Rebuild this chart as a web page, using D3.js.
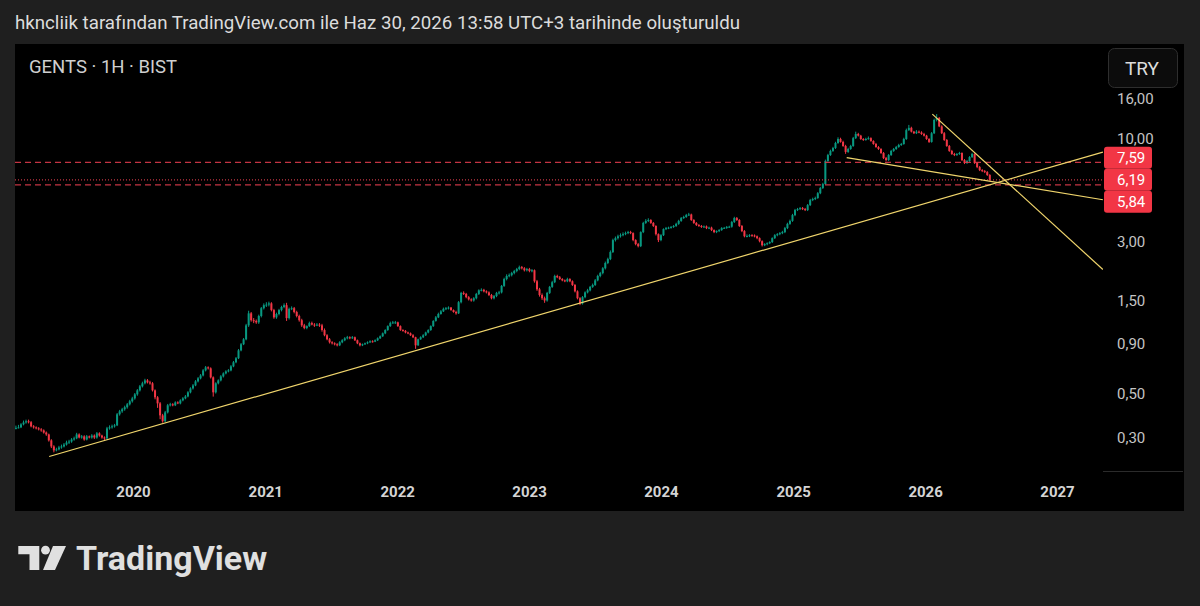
<!DOCTYPE html>
<html>
<head>
<meta charset="utf-8">
<script src="https://cdn.jsdelivr.net/npm/d3@7"></script>
<style>
  html, body { margin: 0; background: #1f1f1f; }
  svg { display: block; font-family: Roboto, "Noto Sans", sans-serif; }
</style>
</head>
<body>
<svg id="chart" width="1200" height="606"></svg>
<script>
// GENTS weekly bars (first bar week of 2019-02-11)
const firstWeek = "2019-02-11";
const firstOpen = 0.334;
const closes = [0.336,
  0.338,0.350,0.358,0.363,0.359,0.342,0.338,0.334,0.330,0.326,
  0.318,0.311,0.290,0.270,0.258,0.261,0.267,0.270,0.276,0.283,
  0.286,0.293,0.297,0.311,0.300,0.304,0.293,0.304,0.300,0.307,
  0.300,0.315,0.307,0.300,0.297,0.334,0.338,0.342,0.346,0.394,
  0.408,0.418,0.428,0.443,0.459,0.475,0.498,0.522,0.547,0.567,
  0.587,0.573,0.567,0.522,0.481,0.448,0.389,0.363,0.403,0.438,
  0.443,0.438,0.453,0.448,0.464,0.475,0.486,0.510,0.534,0.553,
  0.580,0.601,0.622,0.660,0.684,0.676,0.608,0.510,0.567,0.587,
  0.615,0.637,0.652,0.660,0.692,0.726,0.761,0.835,0.897,0.951,
  1.12,1.29,1.19,1.18,1.16,1.25,1.37,1.42,1.43,1.45,
  1.34,1.23,1.28,1.34,1.39,1.42,1.22,1.36,1.37,1.31,
  1.25,1.19,1.12,1.085,1.11,1.15,1.13,1.12,1.13,1.12,
  1.06,0.997,0.951,0.918,0.907,0.897,0.886,0.918,0.940,0.962,
  0.974,0.962,0.974,0.940,0.907,0.886,0.897,0.907,0.918,0.929,
  0.925,0.940,0.962,0.985,1.02,1.06,1.11,1.15,1.16,1.16,
  1.11,1.06,1.05,1.03,1.02,0.997,0.974,0.886,0.951,0.974,
  0.997,1.03,1.06,1.11,1.18,1.23,1.28,1.32,1.36,1.37,
  1.38,1.34,1.31,1.29,1.47,1.64,1.62,1.56,1.52,1.50,
  1.54,1.62,1.69,1.70,1.67,1.65,1.60,1.54,1.58,1.64,
  1.65,1.78,1.93,2.00,2.02,2.07,2.12,2.17,2.22,2.19,
  2.14,2.17,2.12,2.14,1.88,1.71,1.60,1.54,1.50,1.64,
  1.76,1.86,2.00,1.97,1.93,1.90,1.88,1.93,1.88,1.80,
  1.67,1.54,1.45,1.56,1.65,1.69,1.76,1.80,1.90,2.00,
  2.07,2.19,2.33,2.44,2.65,3.05,3.12,3.19,3.23,3.27,
  3.31,3.35,3.31,3.05,2.91,2.84,3.35,3.73,3.82,3.86,
  3.73,3.60,3.27,3.05,3.23,3.47,3.51,3.53,3.56,3.60,
  3.69,3.82,3.95,4.00,4.09,4.12,3.86,3.73,3.64,3.60,
  3.56,3.58,3.51,3.53,3.43,3.35,3.39,3.43,3.51,3.52,
  3.56,3.57,3.77,3.95,3.86,3.60,3.39,3.19,3.20,3.23,
  3.22,3.19,3.12,3.01,2.87,2.91,2.94,2.98,3.12,3.23,
  3.27,3.31,3.35,3.51,3.69,3.82,4.09,4.34,4.39,4.44,
  4.39,4.34,4.60,4.88,4.94,5.00,5.29,5.62,5.89,7.72,
  8.28,8.69,8.99,9.54,10.0,9.66,9.21,8.59,8.89,9.21,
  10.1,10.6,10.4,10.0,9.88,10.0,10.1,9.77,9.43,9.10,
  8.89,8.48,7.99,7.81,8.28,8.69,8.89,9.10,9.32,9.43,
  10.0,11.1,11.4,10.9,10.7,10.9,10.8,10.6,10.4,10.0,
  9.66,10.7,12.5,12.8,11.6,10.7,9.88,9.21,8.69,8.38,
  8.28,8.38,8.48,7.81,7.54,7.72,8.09,8.38,7.54,7.19,
  6.94,6.86,6.78,6.55,6.19];
const highs = [0.345,
  0.348,0.355,0.366,0.370,0.370,0.364,0.347,0.342,0.339,0.335,
  0.330,0.322,0.314,0.294,0.274,0.266,0.272,0.276,0.281,0.289,
  0.292,0.298,0.303,0.317,0.315,0.309,0.308,0.309,0.307,0.312,
  0.311,0.320,0.319,0.310,0.304,0.340,0.346,0.349,0.352,0.400,
  0.415,0.425,0.436,0.450,0.467,0.484,0.506,0.530,0.556,0.578,
  0.598,0.596,0.584,0.575,0.528,0.488,0.455,0.396,0.410,0.445,
  0.451,0.449,0.459,0.459,0.470,0.482,0.494,0.517,0.541,0.562,
  0.589,0.610,0.632,0.670,0.695,0.692,0.684,0.615,0.574,0.594,
  0.624,0.645,0.661,0.670,0.702,0.737,0.772,0.848,0.910,0.965,
  1.14,1.33,1.31,1.22,1.20,1.27,1.39,1.45,1.47,1.48,
  1.47,1.36,1.30,1.36,1.41,1.45,1.46,1.38,1.40,1.39,
  1.33,1.27,1.21,1.14,1.12,1.17,1.17,1.15,1.15,1.15,
  1.14,1.08,1.01,0.965,0.930,0.918,0.908,0.930,0.952,0.975,
  0.990,0.985,0.988,0.982,0.948,0.915,0.905,0.915,0.928,0.940,
  0.940,0.950,0.972,0.995,1.03,1.07,1.12,1.17,1.18,1.18,
  1.17,1.12,1.07,1.06,1.04,1.03,1.01,0.980,0.958,0.985,
  1.01,1.04,1.07,1.12,1.19,1.25,1.30,1.34,1.38,1.39,
  1.40,1.39,1.35,1.33,1.49,1.66,1.67,1.64,1.58,1.54,
  1.56,1.64,1.71,1.73,1.72,1.69,1.67,1.62,1.60,1.66,
  1.68,1.80,1.96,2.04,2.06,2.10,2.15,2.20,2.26,2.25,
  2.22,2.20,2.20,2.17,2.16,1.91,1.74,1.63,1.57,1.66,
  1.78,1.89,2.03,2.03,2.00,1.95,1.92,1.96,1.95,1.90,
  1.82,1.69,1.56,1.58,1.67,1.72,1.78,1.83,1.93,2.03,
  2.10,2.22,2.37,2.48,2.70,3.10,3.18,3.25,3.30,3.34,
  3.37,3.40,3.40,3.34,3.08,2.95,3.38,3.78,3.90,3.94,
  3.90,3.77,3.63,3.30,3.27,3.50,3.56,3.57,3.60,3.64,
  3.74,3.87,4.00,4.06,4.15,4.20,4.16,3.90,3.77,3.68,
  3.64,3.62,3.62,3.57,3.57,3.46,3.42,3.47,3.55,3.56,
  3.60,3.61,3.82,4.01,4.00,3.90,3.64,3.43,3.26,3.27,
  3.27,3.26,3.22,3.15,3.04,2.94,2.97,3.01,3.15,3.27,
  3.31,3.35,3.40,3.56,3.74,3.88,4.15,4.40,4.45,4.50,
  4.50,4.45,4.66,4.95,5.02,5.08,5.36,5.70,5.98,7.85,
  8.40,8.82,9.12,9.68,10.2,10.15,9.80,9.34,9.02,9.34,
  10.25,10.9,10.75,10.5,10.1,10.15,10.3,10.2,9.85,9.55,
  9.20,8.98,8.58,8.10,8.38,8.80,9.00,9.22,9.45,9.55,
  10.15,11.3,11.8,11.55,11.0,11.1,11.05,10.95,10.75,10.5,
  10.1,10.85,12.7,13.4,12.95,11.75,10.85,10.0,9.32,8.80,
  8.50,8.48,8.60,8.55,7.90,7.82,8.18,8.50,8.45,7.62,
  7.28,7.02,6.95,6.86,6.62];
const lows = [0.330,
  0.334,0.335,0.346,0.353,0.354,0.338,0.333,0.330,0.326,0.321,
  0.314,0.306,0.286,0.265,0.252,0.255,0.258,0.263,0.267,0.273,
  0.278,0.282,0.289,0.294,0.297,0.296,0.289,0.290,0.297,0.296,
  0.295,0.296,0.303,0.296,0.290,0.294,0.329,0.333,0.337,0.343,
  0.388,0.401,0.411,0.421,0.437,0.452,0.468,0.490,0.515,0.540,
  0.560,0.566,0.558,0.515,0.470,0.425,0.372,0.357,0.359,0.398,
  0.432,0.433,0.434,0.444,0.443,0.459,0.470,0.481,0.504,0.527,
  0.548,0.573,0.594,0.615,0.652,0.667,0.600,0.485,0.503,0.560,
  0.580,0.607,0.630,0.645,0.653,0.685,0.718,0.754,0.826,0.888,
  0.94,1.10,1.17,1.15,1.14,1.14,1.23,1.35,1.39,1.40,
  1.32,1.21,1.21,1.26,1.32,1.37,1.18,1.20,1.34,1.29,
  1.23,1.17,1.10,1.07,1.07,1.10,1.12,1.10,1.11,1.10,
  1.04,0.985,0.940,0.905,0.895,0.885,0.875,0.878,0.908,0.930,
  0.950,0.952,0.955,0.932,0.898,0.875,0.878,0.890,0.898,0.910,
  0.915,0.920,0.932,0.955,0.978,1.01,1.05,1.10,1.14,1.14,
  1.10,1.05,1.04,1.02,1.01,0.990,0.965,0.850,0.880,0.945,
  0.965,0.988,1.02,1.05,1.10,1.17,1.22,1.27,1.31,1.34,
  1.35,1.33,1.30,1.27,1.28,1.45,1.60,1.54,1.50,1.48,
  1.48,1.52,1.60,1.67,1.65,1.63,1.58,1.52,1.52,1.56,
  1.61,1.63,1.76,1.90,1.97,1.99,2.04,2.09,2.14,2.16,
  2.11,2.11,2.09,2.09,1.85,1.68,1.57,1.51,1.46,1.48,
  1.62,1.74,1.84,1.95,1.91,1.88,1.86,1.86,1.86,1.78,
  1.65,1.52,1.42,1.43,1.54,1.63,1.67,1.74,1.78,1.88,
  1.97,2.04,2.16,2.30,2.41,2.62,3.00,3.07,3.14,3.19,
  3.23,3.27,3.27,3.01,2.87,2.80,2.81,3.31,3.69,3.77,
  3.69,3.56,3.22,2.98,3.01,3.20,3.43,3.47,3.49,3.52,
  3.56,3.65,3.78,3.91,3.96,4.05,3.82,3.69,3.60,3.56,
  3.52,3.52,3.47,3.47,3.39,3.31,3.31,3.35,3.40,3.48,
  3.48,3.52,3.53,3.73,3.82,3.56,3.35,3.15,3.15,3.16,
  3.18,3.15,3.08,2.97,2.83,2.84,2.87,2.91,2.95,3.09,
  3.19,3.23,3.27,3.31,3.47,3.65,3.78,4.04,4.29,4.34,
  4.34,4.29,4.29,4.55,4.82,4.88,4.95,5.23,5.56,5.84,
  7.65,8.20,8.60,8.90,9.45,9.58,9.12,8.40,8.50,8.80,
  9.12,10.0,10.3,9.90,9.78,9.80,9.92,9.68,9.35,9.02,
  8.80,8.40,7.90,7.70,7.73,8.20,8.60,8.80,9.02,9.22,
  9.35,9.90,11.0,10.8,10.6,10.6,10.7,10.5,10.3,9.90,
  9.55,9.58,10.6,12.3,11.5,10.6,9.78,9.12,8.60,8.30,
  8.18,8.20,8.30,7.72,7.45,7.46,7.65,8.00,7.46,7.10,
  6.86,6.78,6.70,6.48,6.12];

// price axis ticks and horizontal levels
const priceTicks = [0.30, 0.50, 0.90, 1.50, 3.00, 10.00, 16.00];
const levels = [
  { price: 7.59, style: "dash" },
  { price: 6.19, style: "dot", current: true },
  { price: 5.84, style: "dash" }
];
const yearTicks = ["2020", "2021", "2022", "2023", "2024", "2025", "2026", "2027"];

// drawn trend lines (date, price anchors)
const trendLines = [
  [["2019-05-14", 0.240], ["2027-05-08", 8.58]],
  [["2026-01-21", 13.4], ["2027-05-08", 2.16]],
  [["2025-05-29", 8.03], ["2027-05-08", 4.90]]
];

const title = "hkncliik tarafından TradingView.com ile Haz 30, 2026 13:58 UTC+3 tarihinde oluşturuldu";
const symbol = "GENTS · 1H · BIST";

const svg = d3.select("#chart");
const panel = { x: 15, y: 44, w: 1169, h: 467 };
const plot = { left: 15, right: 1103, top: 44, bottom: 471 };
const up = "#089981", down = "#f23645", lineCol = "#f0d56c";
const fmt = v => v.toFixed(2).replace(".", ",");
const parse = d3.utcParse("%Y-%m-%d");

const x = d3.scaleUtc()
  .domain([new Date(Date.UTC(2020, 0, 1)), new Date(Date.UTC(2027, 0, 1))])
  .range([133, 1057]);
const y = d3.scaleLog().domain([0.3, 10]).range([437.5, 139]);

// header
svg.append("text").attr("x", 15).attr("y", 29)
  .attr("fill", "#dcdcdc").style("font-size", "18.7px").text(title);

svg.append("rect").attr("x", panel.x).attr("y", panel.y)
  .attr("width", panel.w).attr("height", panel.h).attr("fill", "#000");

svg.append("defs").append("clipPath").attr("id", "clip")
  .append("rect").attr("x", plot.left).attr("y", plot.top)
  .attr("width", plot.right - plot.left).attr("height", plot.bottom - plot.top);

const g = svg.append("g").attr("clip-path", "url(#clip)");

// candles
const start = parse(firstWeek);
const bars = closes.map((c, i) => ({
  t: d3.utcMonday.offset(start, i),
  o: i ? closes[i - 1] : firstOpen,
  h: highs[i], l: lows[i], c
}));

const candle = g.append("g").selectAll("g").data(bars).join("g")
  .attr("fill", d => d.c >= d.o ? up : down);
candle.append("rect")
  .attr("x", d => x(d.t) - 0.5).attr("width", 1)
  .attr("y", d => y(d.h)).attr("height", d => y(d.l) - y(d.h));
candle.append("rect")
  .attr("x", d => x(d.t) - 1).attr("width", 2)
  .attr("y", d => y(Math.max(d.o, d.c)))
  .attr("height", d => Math.max(1, Math.abs(y(d.o) - y(d.c))));

// horizontal levels
g.selectAll(".lvl").data(levels).join("line")
  .attr("x1", plot.left).attr("x2", plot.right)
  .attr("y1", d => y(d.price)).attr("y2", d => y(d.price))
  .attr("stroke", "#d93a4a").attr("stroke-opacity", 0.9).attr("stroke-width", 1.2)
  .attr("stroke-dasharray", d => d.style === "dash" ? "6,4" : "1,2");

// trend lines
g.selectAll(".trend").data(trendLines).join("line")
  .attr("x1", d => x(parse(d[0][0]))).attr("y1", d => y(d[0][1]))
  .attr("x2", d => x(parse(d[1][0]))).attr("y2", d => y(d[1][1]))
  .attr("stroke", lineCol).attr("stroke-width", 1.2);

svg.append("text").attr("x", 29).attr("y", 67).attr("dy", "0.35em")
  .attr("fill", "#cfcfcf").style("font-size", "18.5px").text(symbol);

// price axis
const yAxis = svg.append("g").attr("transform", `translate(${plot.right},0)`)
  .call(d3.axisRight(y).tickValues(priceTicks).tickFormat(fmt).tickSize(0).tickPadding(14));
yAxis.select(".domain").remove();
yAxis.selectAll("text").attr("fill", "#c4c4c4")
  .style("font-size", "15px").style("font-family", "Roboto, sans-serif");

svg.append("line").attr("x1", plot.right).attr("x2", 1183)
  .attr("y1", plot.bottom + 0.5).attr("y2", plot.bottom + 0.5).attr("stroke", "#2b2b2b");

// price labels, stacked around the current price
const boxH = 22;
const sorted = levels.map(d => ({ ...d, ly: y(d.price) })).sort((a, b) => a.ly - b.ly);
const ci = sorted.findIndex(d => d.current);
for (let i = ci - 1; i >= 0; i--) sorted[i].ly = Math.min(sorted[i].ly, sorted[i + 1].ly - boxH);
for (let i = ci + 1; i < sorted.length; i++) sorted[i].ly = Math.max(sorted[i].ly, sorted[i - 1].ly + boxH);
const lab = svg.append("g").selectAll("g").data(sorted).join("g")
  .attr("transform", d => `translate(${plot.right + 1},${d.ly})`);
lab.append("rect").attr("x", 0).attr("y", -boxH / 2).attr("width", 48).attr("height", boxH)
  .attr("rx", 3).attr("fill", down);
lab.append("text").attr("x", 13).attr("dy", "0.35em").attr("fill", "#fff")
  .style("font-size", "15px").text(d => fmt(d.price));

// currency button
svg.append("rect").attr("x", 1108.5).attr("y", 48.5).attr("width", 69).attr("height", 39)
  .attr("rx", 6).attr("fill", "#0c0c0c").attr("stroke", "#2e2e2e");
svg.append("text").attr("x", 1142).attr("y", 68).attr("dy", "0.35em")
  .attr("text-anchor", "middle").attr("fill", "#dcdcdc").style("font-size", "19px").text("TRY");

// time axis
const xAxis = svg.append("g").attr("transform", `translate(0,${plot.bottom})`)
  .call(d3.axisBottom(x).tickValues(yearTicks.map(t => d3.utcParse("%Y")(t)))
    .tickFormat(d3.utcFormat("%Y")).tickSize(0).tickPadding(15));
xAxis.select(".domain").remove();
xAxis.selectAll("text").attr("fill", "#d4d4d4").style("font-size", "15px")
  .style("font-weight", "700").style("font-family", "Roboto, sans-serif");

// TradingView logo
const logo = svg.append("g").attr("fill", "#e0e0e0");
logo.append("path").attr("d", "M18.3,546 H39.3 V570 H29.5 V554.3 H18.3 Z");
logo.append("circle").attr("cx", 45.5).attr("cy", 550.2).attr("r", 4.4);
logo.append("path").attr("d", "M53,546 H66 L55,570 H43 Z");
logo.append("text").attr("x", 76).attr("y", 570).attr("fill", "#e0e0e0")
  .style("font-size", "34px").style("font-weight", "700")
  .text("TradingView");
</script>
</body>
</html>
